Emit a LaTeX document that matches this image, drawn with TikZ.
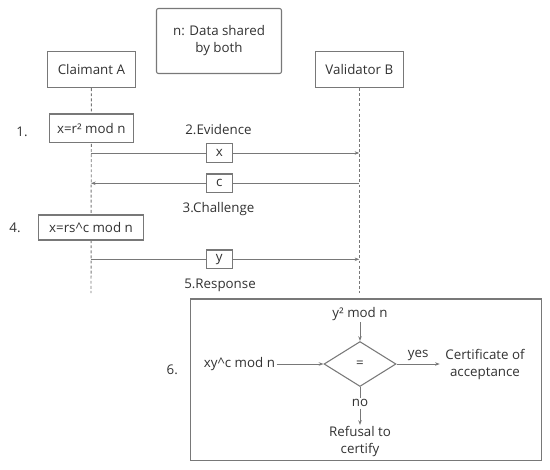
\documentclass[tikz,border=0pt]{standalone}
\usepackage{fontspec}
\setmainfont{Open Sans}
\usepackage{tikz}
\usetikzlibrary{
  arrows.meta,
  positioning,
  shapes.geometric
}
\definecolor{linegray}{RGB}{120, 120, 120}
\definecolor{txtgray}{RGB}{50, 50, 50}

\begin{document}
\begin{tikzpicture}[
  x=0.75pt, y=-0.75pt,
  every node/.style={font=\fontsize{10}{12.75}\selectfont, text=txtgray},
  actor/.style={draw=linegray, line width=0.8pt, fill=white,
                minimum width=66pt, minimum height=27pt, inner sep=0pt},
  calc/.style={draw=linegray, line width=0.8pt, fill=white,
               minimum height=21.5pt, inner xsep=3pt, inner ysep=0pt},
  msgbox/.style={draw=linegray, line width=0.8pt, fill=white,
                 minimum width=19.5pt, minimum height=14pt, inner sep=0pt},
  life/.style={draw=linegray, line width=0.7pt, dash pattern=on 2.2pt off 1.6pt},
  msg/.style={draw=linegray, line width=0.7pt,
              -{Stealth[length=3.5pt, width=2.6pt]}},
  plain/.style={draw=linegray, line width=0.7pt},
  lbl/.style={inner sep=1pt, align=center}
]
\useasboundingbox (0,0) rectangle (550,469);

% shared data
\node[draw=linegray, line width=0.8pt, rounded corners=1.5pt, align=center,
      minimum width=93.75pt, minimum height=48.75pt] (shared) at (219,41)
      {n: Data shared\\by both};

% actors
\node[actor] (claimA) at (91.4,69.7) {Claimant A};
\node[actor] (valB) at (359.3,69.7) {Validator B};

% lifelines
\coordinate (endA) at (91,293);
\coordinate (endB) at (359.3,293);
\draw[life] (claimA.south) -- (endA);
\draw[life] (valB.south) -- (endB);

% steps on the claimant side
\node[lbl] (n1) at (22,131.7) {1.};
\node[calc, minimum width=63pt] (stepA) at (91.3,128.3) {x=r² mod n};
\node[lbl] (n4) at (15,228) {4.};
\node[calc, minimum width=78.75pt, minimum height=18.75pt] (stepB) at (91,227.5)
      {x=rs\textasciicircum c mod n};

% messages
\coordinate (a1) at (91,153);    \coordinate (b1) at (359.3,153);
\coordinate (a2) at (91,183.3);  \coordinate (b2) at (359.3,183.3);
\coordinate (a3) at (91,259.3);  \coordinate (b3) at (359.3,259.3);
\draw[msg] (a1) -- (b1) node[msgbox, pos=0.478] (mx) {x};
\draw[msg] (b2) -- (a2) node[msgbox, pos=0.522] (mc) {c};
\draw[msg] (a3) -- (b3) node[msgbox, pos=0.478] (my) {y};
\node[lbl] (ev) at (218.5,130) {2.Evidence};
\node[lbl] (ch) at (218.5,209.3) {3.Challenge};
\node[lbl] (re) at (220,285) {5.Response};

% verification
\node[lbl] (n6) at (172.3,370) {6.};
\node[draw=linegray, line width=0.8pt, minimum width=263.25pt,
      minimum height=121.1pt] (frame) at (366.1,379.75) {};
\node[draw=linegray, line width=0.8pt, diamond, minimum width=54pt,
      minimum height=33.75pt, inner sep=0pt] (dia) at (360,364) {=};
\node[lbl] (ysq) at (360,314) {y² mod n};
\node[lbl] (lhs) at (239.5,364) {xy\textasciicircum c mod n};
\node[lbl, inner sep=4pt] (cert) at (485,364) {Certificate of\\acceptance};
\node[lbl] (no) at (360,403.3) {no};
\node[lbl] (refuse) at (360,441.7) {Refusal to\\certify};
\draw[msg] (ysq) -- (dia);
\draw[msg] (lhs) -- (dia);
\draw[msg] (dia) -- node[lbl, above=1pt] {yes} (cert);
\draw[plain] (dia) -- (no);
\draw[msg] (no) -- (refuse);

\end{tikzpicture}
\end{document}
